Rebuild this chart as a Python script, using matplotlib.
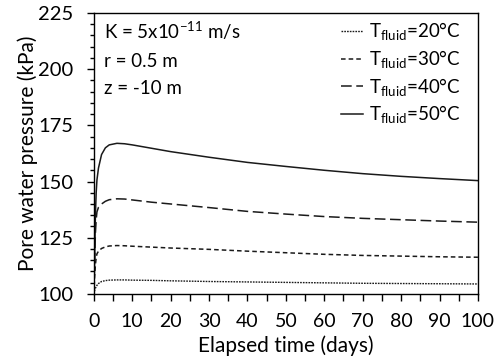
import matplotlib
matplotlib.use("Agg")
import matplotlib.pyplot as plt
from matplotlib.ticker import MultipleLocator

plt.rcParams['font.family'] = ['Lato', 'DejaVu Sans']
plt.rcParams['mathtext.fontset'] = 'custom'
plt.rcParams['mathtext.rm'] = 'Lato'

# elapsed time (days)
t = [0, 0.2, 0.4, 0.6, 0.8, 1.2, 2, 3, 4, 6, 8, 10, 15, 20, 30, 40, 50, 60, 70, 80, 90, 100]

# pore water pressure (kPa) for each fluid temperature
p20 = [100, 101.5, 102.5, 103.2, 103.8, 104.6, 105.5, 105.9, 106.1, 106.2, 106.2, 106.1, 106.0,
       105.8, 105.5, 105.3, 105.1, 104.9, 104.7, 104.6, 104.5, 104.4]
p30 = [100, 108, 113, 116, 117.8, 119, 120.2, 120.9, 121.3, 121.5, 121.4, 121.2, 120.8,
       120.4, 119.8, 119.0, 118.3, 117.6, 117.1, 116.8, 116.5, 116.3]
p40 = [100, 115, 127, 133, 136.5, 138.5, 140, 141.2, 141.9, 142.3, 142.2, 141.8, 140.8,
       140.0, 138.4, 136.7, 135.5, 134.4, 133.6, 133.0, 132.4, 131.9]
p50 = [100, 115, 135, 145, 150.7, 156, 162, 165, 166.3, 167, 166.8, 166.3, 164.8,
       163.3, 160.8, 158.5, 156.7, 155.0, 153.5, 152.3, 151.3, 150.4]

labels = [r'$\mathregular{T_{fluid}}$=20°C', r'$\mathregular{T_{fluid}}$=30°C',
          r'$\mathregular{T_{fluid}}$=40°C', r'$\mathregular{T_{fluid}}$=50°C']

fig, ax = plt.subplots(figsize=(5.02, 3.61), dpi=100)
fig.subplots_adjust(left=0.187, right=0.952, top=0.964, bottom=0.186)

col = '#1a1a1a'
ax.plot(t, p20, color=col, lw=1.0, dashes=(1.2, 0.8), label=labels[0])
ax.plot(t, p30, color=col, lw=1.1, dashes=(3, 2), label=labels[1])
ax.plot(t, p40, color=col, lw=1.1, dashes=(7, 3), label=labels[2])
ax.plot(t, p50, color=col, lw=1.1, label=labels[3])

ax.set_xlim(0, 100)
ax.set_ylim(100, 225)
ax.xaxis.set_major_locator(MultipleLocator(10))
ax.xaxis.set_minor_locator(MultipleLocator(5))
ax.yaxis.set_major_locator(MultipleLocator(25))
ax.yaxis.set_minor_locator(MultipleLocator(5))
ax.tick_params(axis='x', which='major', direction='out', length=5, width=1, labelsize=14, pad=9)
ax.tick_params(axis='y', which='major', direction='out', length=5, width=1, labelsize=14.5, pad=10)
ax.tick_params(axis='x', which='minor', direction='out', length=5, width=1)
ax.tick_params(axis='y', which='minor', direction='out', length=3, width=1)
for s in ax.spines.values():
    s.set_linewidth(1)

ax.set_xlabel('Elapsed time (days)', fontsize=15, labelpad=4)
ax.set_ylabel('Pore water pressure (kPa)', fontsize=15, labelpad=0)

ax.text(0.027, 0.936, r'K = 5x10$^{\mathregular{-11}}$ m/s', transform=ax.transAxes, fontsize=13.5, va='center')
ax.text(0.027, 0.826, 'r = 0.5 m', transform=ax.transAxes, fontsize=13.5, va='center')
ax.text(0.027, 0.732, 'z = -10 m', transform=ax.transAxes, fontsize=13.5, va='center')

ax.legend(loc='upper right', frameon=False, fontsize=13.5, handlelength=1.2, handletextpad=0.3,
          labelspacing=0.3, borderaxespad=0.0, bbox_to_anchor=(0.975, 1.0))

fig.savefig('out.png', dpi=100)
